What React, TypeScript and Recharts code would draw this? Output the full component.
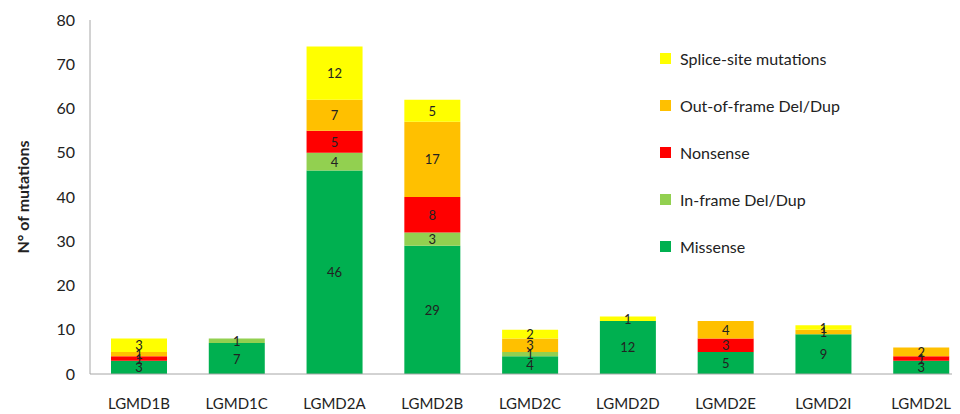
import React from "react";
import { BarChart, Bar, XAxis, YAxis, LabelList } from "recharts";

const categories = ["LGMD1B", "LGMD1C", "LGMD2A", "LGMD2B", "LGMD2C", "LGMD2D", "LGMD2E", "LGMD2I", "LGMD2L"];
const missense = [3, 7, 46, 29, 4, 12, 5, 9, 3];
const inframe = [0, 1, 4, 3, 1, 0, 0, 0, 0];
const nonsense = [1, 0, 5, 8, 0, 0, 3, 0, 1];
const outframe = [1, 0, 7, 17, 3, 0, 4, 1, 2];
const splice = [3, 0, 12, 5, 2, 1, 0, 1, 0];
const yTicks = [0, 10, 20, 30, 40, 50, 60, 70, 80];

const data = categories.map((c, i) => ({
  name: c,
  missense: missense[i],
  inframe: inframe[i],
  nonsense: nonsense[i],
  outframe: outframe[i],
  splice: splice[i],
}));

const series = [
  { key: "missense", name: "Missense", color: "#00B050" },
  { key: "inframe", name: "In-frame Del/Dup", color: "#92D050" },
  { key: "nonsense", name: "Nonsense", color: "#FF0000" },
  { key: "outframe", name: "Out-of-frame Del/Dup", color: "#FFC000" },
  { key: "splice", name: "Splice-site mutations", color: "#FFFF00" },
];

const FONT = "Lato, 'Open Sans', sans-serif";

const LegendBox = () => (
  <div
    style={{
      position: "absolute",
      left: 652,
      top: 27,
      width: 260,
      fontFamily: FONT,
      fontSize: 16,
      color: "#222",
    }}
  >
    {[...series].reverse().map((s) => (
      <div key={s.key} style={{ display: "flex", alignItems: "center", height: 47 }}>
        <span style={{ display: "inline-block", width: 11, height: 11, background: s.color, marginRight: 9 }} />
        <span>{s.name}</span>
      </div>
    ))}
  </div>
);

const renderLabel = (props: any) => {
  const { x, y, width, height, value } = props;
  if (!value) return null;
  return (
    <text
      x={x + width / 2}
      y={y + height / 2}
      textAnchor="middle"
      dominantBaseline="central"
      fontFamily={FONT}
      fontSize={13}
      fill="#222"
    >
      {value}
    </text>
  );
};

export default function App() {
  return (
    <div style={{ position: "relative", width: 952, height: 406, overflow: "hidden" }}>
      <BarChart
        width={962}
        height={406}
        data={data}
        margin={{ top: 12, right: 0, left: 0, bottom: 0 }}
        barSize={56}
      >
        <XAxis
          dataKey="name"
          height={40}
          axisLine={{ stroke: "#A6A6A6" }}
          tickLine={false}
          tickMargin={18}
          tick={{ fontFamily: FONT, fontSize: 15, fill: "#222" }}
          interval={0}
        />
        <YAxis
          width={82}
          domain={[0, 80]}
          ticks={yTicks}
          axisLine={{ stroke: "#A6A6A6" }}
          tickLine={false}
          tickMargin={9}
          tick={{ fontFamily: FONT, fontSize: 16, fill: "#222" }}
          label={{
            content: () => (
              <text
                x={14}
                y={189}
                transform="rotate(-90 14 189)"
                textAnchor="middle"
                dominantBaseline="central"
                fontFamily={FONT}
                fontSize={16}
                fontWeight="bold"
                fill="#222"
              >
                N° of mutations
              </text>
            ),
          }}
        />
        {series.map((s) => (
          <Bar key={s.key} dataKey={s.key} name={s.name} stackId="a" fill={s.color} isAnimationActive={false}>
            <LabelList dataKey={s.key} content={renderLabel} />
          </Bar>
        ))}
      </BarChart>
      <LegendBox />
    </div>
  );
}
